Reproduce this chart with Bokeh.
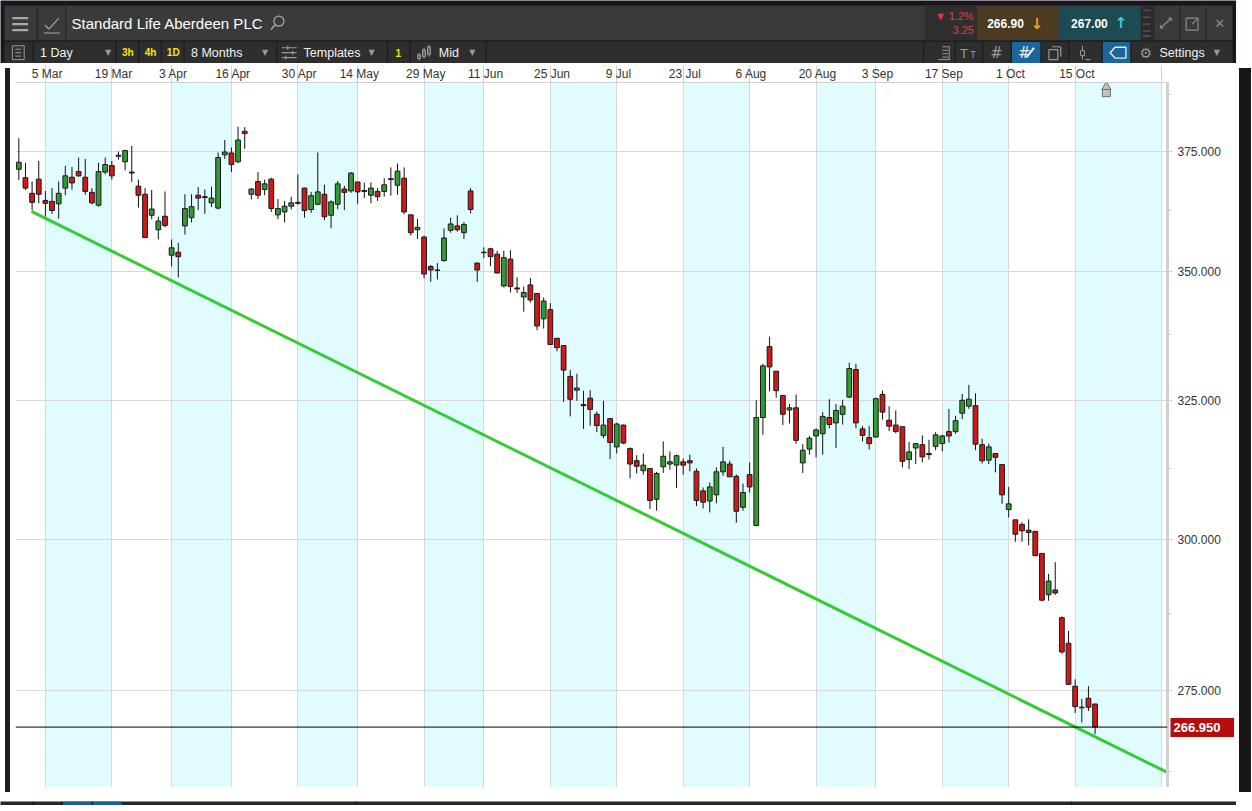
from bokeh.plotting import figure
from bokeh.models import (Range1d, FixedTicker, PrintfTickFormatter, BoxAnnotation,
                          Span, ColumnDataSource, Div, LogAxis)
from bokeh.layouts import column, row
from bokeh.core.properties import value
from bokeh.embed import file_html
from bokeh.resources import INLINE

FONT = "Liberation Sans"
SYM = "DejaVu Sans"

# ---------------- data ----------------
title = "Standard Life Aberdeen PLC"
date_ticks = [4, 14, 23, 32, 42, 51, 61, 70, 80, 90, 100, 110, 120, 129, 139, 149, 159, 172]
date_labels = ["5 Mar", "19 Mar", "3 Apr", "16 Apr", "30 Apr", "14 May", "29 May", "11 Jun",
               "25 Jun", "9 Jul", "23 Jul", "6 Aug", "20 Aug", "3 Sep", "17 Sep", "1 Oct",
               "15 Oct", ""]
band_left = [4, 23, 42, 61, 80, 100, 120, 139, 159]
band_right = [14, 32, 51, 70, 90, 110, 129, 149, 172]
price_ticks = [275, 300, 325, 350, 375]
price_minor = [262.5, 287.5, 312.5, 337.5, 362.5, 387.5]

opens = [371.2, 369.4, 366.1, 369.1, 364.6, 364.4, 363.9, 367.2, 369.5, 370.7,
         369.5, 366.3, 363.6, 370.6, 372.0, 374.0, 372.8, 370.6, 367.6, 365.9,
         361.5, 358.5, 361.3, 353.3, 353.9, 359.3, 361.0, 365.7, 365.4, 364.1,
         363.0, 374.3, 374.7, 372.8, 379.4, 365.9, 368.6, 366.9, 369.1, 361.6,
         362.2, 363.4, 364.2, 367.2, 362.7, 363.8, 365.9, 361.5, 363.8, 367.0,
         366.6, 368.5, 366.7, 365.7, 366.5, 366.5, 369.0, 367.8, 369.3, 361.6,
         358.5, 357.0, 351.0, 350.2, 352.2, 358.4, 359.3, 357.9, 366.6, 351.7,
         353.8, 354.6, 353.5, 347.1, 352.5, 346.7, 344.9, 347.3, 345.6, 340.6,
         342.4, 336.8, 335.4, 329.5, 326.9, 324.2, 325.4, 322.4, 318.5, 321.6,
         316.4, 320.4, 316.1, 313.9, 312.1, 312.5, 307.0, 312.8, 313.3, 313.1,
         313.7, 313.9, 312.0, 308.5, 306.7, 307.8, 311.9, 313.3, 311.1, 305.6,
         311.4, 302.4, 321.8, 335.2, 330.5, 325.9, 323.2, 323.6, 313.5, 316.0,
         318.4, 318.8, 321.8, 320.8, 322.4, 325.6, 330.8, 319.7, 318.1, 318.2,
         326.1, 321.3, 320.4, 320.1, 314.1, 316.2, 316.8, 315.2, 316.5, 317.0,
         319.2, 319.2, 322.6, 323.9, 324.0, 316.8, 314.0, 315.2, 313.2, 305.2,
         303.4, 302.6, 301.6, 301.4, 297.6, 290.6, 291.4, 286.8, 282.6, 275.7,
         272.4, 273.8, 272.9]
highs = [377.9, 372.6, 368.6, 373.0, 366.6, 367.2, 368.6, 371.9, 371.7, 373.7,
         373.4, 367.2, 372.6, 373.7, 373.0, 375.0, 375.4, 376.2, 369.0, 367.2,
         366.8, 361.2, 366.5, 356.5, 355.8, 365.9, 365.9, 367.4, 366.9, 367.5,
         374.8, 377.5, 375.9, 380.4, 380.3, 367.2, 370.6, 369.0, 369.4, 364.9,
         364.5, 365.4, 370.1, 367.3, 366.4, 374.8, 367.9, 364.6, 368.7, 367.7,
         370.6, 368.5, 368.4, 368.4, 367.2, 369.3, 371.6, 372.4, 371.6, 361.6,
         360.8, 357.3, 351.3, 351.7, 358.8, 361.0, 361.5, 360.1, 367.2, 351.8,
         354.9, 354.8, 354.2, 354.2, 354.3, 348.8, 347.0, 348.7, 345.6, 344.8,
         343.7, 336.8, 335.4, 330.7, 330.0, 326.8, 326.9, 322.9, 324.9, 321.6,
         320.8, 320.5, 316.3, 314.9, 315.2, 312.5, 311.9, 317.4, 315.6, 315.0,
         314.3, 315.0, 312.5, 309.1, 310.0, 312.7, 316.4, 313.9, 311.4, 309.8,
         313.6, 325.0, 331.9, 337.1, 330.5, 325.9, 324.3, 326.1, 316.9, 318.4,
         319.8, 322.8, 325.2, 324.3, 325.1, 332.1, 331.9, 320.2, 320.2, 325.5,
         326.8, 323.9, 323.1, 320.1, 317.3, 317.0, 318.5, 317.7, 319.1, 318.6,
         323.4, 322.1, 326.2, 327.9, 326.3, 317.9, 317.0, 315.2, 313.2, 309.2,
         303.4, 303.0, 303.5, 301.4, 297.6, 294.1, 296.1, 287.0, 284.6, 276.8,
         273.7, 275.7, 272.9]
lows = [368.9, 366.8, 362.6, 364.0, 361.2, 361.8, 360.8, 365.7, 366.9, 369.6,
        365.8, 363.8, 363.3, 370.1, 369.0, 373.3, 371.0, 368.5, 363.1, 356.8,
        360.7, 356.5, 359.0, 351.0, 348.8, 357.5, 360.0, 362.6, 361.8, 363.2,
        362.7, 373.4, 370.6, 372.5, 375.6, 364.8, 364.9, 365.7, 362.2, 360.7,
        360.0, 362.7, 363.7, 361.0, 362.0, 363.6, 360.5, 358.8, 362.8, 362.6,
        366.2, 363.9, 365.1, 364.0, 364.5, 365.4, 365.6, 365.8, 361.7, 357.3,
        356.6, 348.6, 347.9, 348.4, 352.0, 357.9, 358.1, 356.6, 361.9, 347.9,
        352.7, 351.1, 349.6, 346.8, 345.8, 345.7, 342.0, 343.8, 338.4, 338.7,
        335.6, 334.3, 324.7, 322.0, 324.9, 319.7, 320.3, 319.1, 318.0, 314.2,
        315.2, 316.9, 310.7, 311.6, 311.4, 305.3, 305.0, 311.7, 312.3, 309.0,
        311.4, 312.0, 305.8, 305.4, 304.7, 306.3, 311.2, 311.0, 302.9, 305.0,
        308.2, 302.3, 318.6, 326.7, 325.5, 320.4, 320.7, 317.0, 311.7, 315.0,
        314.5, 315.0, 319.8, 316.2, 320.5, 325.4, 319.8, 317.4, 315.9, 318.2,
        321.4, 319.3, 318.9, 312.7, 312.4, 313.3, 313.6, 314.1, 315.8, 315.6,
        317.2, 318.8, 321.5, 323.4, 315.8, 313.4, 313.3, 311.8, 306.2, 303.8,
        299.6, 299.6, 299.0, 297.2, 289.5, 289.6, 290.6, 280.9, 275.9, 271.5,
        270.0, 271.8, 268.2]
closes = [372.7, 367.2, 364.2, 365.9, 364.0, 362.5, 366.1, 369.8, 368.3, 369.8,
          366.5, 364.1, 370.7, 372.2, 369.8, 374.2, 375.2, 370.4, 365.7, 356.9,
          362.8, 360.3, 359.4, 354.8, 353.0, 362.9, 363.3, 365.1, 365.2, 365.1,
          373.7, 374.9, 372.2, 377.5, 378.9, 367.0, 365.7, 368.1, 362.9, 362.9,
          363.4, 364.1, 364.0, 362.5, 365.6, 366.4, 361.2, 364.3, 368.1, 366.3,
          370.4, 366.4, 366.5, 367.2, 365.4, 367.9, 369.2, 370.8, 362.2, 357.9,
          359.0, 349.5, 350.3, 350.3, 356.8, 359.7, 358.5, 359.6, 362.7, 350.3,
          353.9, 353.0, 349.7, 352.8, 347.0, 346.5, 345.8, 344.3, 339.2, 344.1,
          335.6, 335.0, 330.7, 325.2, 327.3, 324.0, 323.3, 320.3, 320.4, 317.2,
          320.6, 317.1, 313.3, 312.9, 313.1, 306.8, 311.6, 314.7, 313.7, 314.8,
          313.1, 313.5, 306.8, 306.5, 309.2, 311.9, 313.7, 311.0, 304.9, 308.2,
          309.2, 321.8, 331.5, 331.3, 326.8, 322.4, 323.6, 317.6, 315.8, 318.0,
          319.5, 322.0, 320.5, 323.1, 323.9, 331.0, 320.8, 318.5, 317.0, 325.3,
          322.8, 320.2, 319.2, 313.8, 315.5, 317.0, 314.6, 315.0, 318.6, 318.4,
          318.4, 321.2, 325.0, 325.2, 316.9, 313.9, 316.4, 314.5, 307.8, 306.2,
          300.9, 301.5, 301.2, 297.2, 289.7, 292.9, 290.9, 281.2, 276.0, 272.5,
          272.3, 272.4, 269.3]

trend_x = [1.9, 172.9]
trend_y = [362.3, 262.35]
last_price_text = "266.950"

# ---------------- colours ----------------
UP = "#339a33"
DOWN = "#d01818"
BAND = "#e0fcff"
DARK = "#1e1e1e"
PRICE_RED = "#b50d0d"

# ---------------- header (toolbar strip) ----------------
hdr = figure(width=1236, height=63, x_range=Range1d(0, 1252), y_range=Range1d(64, 0),
             toolbar_location=None, output_backend="svg", min_border=0)
hdr.axis.visible = False
hdr.grid.visible = False
hdr.outline_line_color = None
hdr.background_fill_color = "#1b1420"
hdr.border_fill_color = "#1b1420"


def box(fig, l, r, t, b, color, line=None):
    fig.quad(left=[l], right=[r], top=[t], bottom=[b], fill_color=color, line_color=line)


def txt(x, y, s, size="12px", color="#f2f2f2", align="left", font=FONT, style="normal"):
    hdr.text(x=[x], y=[y], text=[s], text_font=value(font), text_font_size=value(size),
             text_color=color, text_align=align, text_baseline="middle",
             text_font_style=style)


def seg(x0, y0, x1, y1, color="#9a9a9a", w=1.0, fig=None):
    (fig or hdr).segment(x0=[x0], y0=[y0], x1=[x1], y1=[y1], line_color=color, line_width=w)


box(hdr, 4, 1248, 5, 41, "#3a3a3a")
box(hdr, 4, 1248, 42, 64, "#2e2e2e")
box(hdr, 936, 989, 5, 41, "#2f2f2f")
box(hdr, 989, 1072, 6, 40, "#4c3a22")
box(hdr, 1072, 1155, 6, 40, "#1c4b54")
box(hdr, 1155, 1167, 6, 40, "#2a2a2a")
box(hdr, 1024, 1054, 42, 64, "#1b679c")
box(hdr, 1116, 1145, 42, 64, "#1b679c")

for sx in [37, 66, 1168, 1195, 1221]:
    seg(sx, 5, sx, 41, "#242424", 1.2)
for sx in [33, 117, 140, 163, 186, 280, 392, 415, 492, 935, 967, 995, 1024, 1054, 1082, 1116, 1145]:
    seg(sx, 42, sx, 64, "#1c1c1c", 1.2)
seg(4, 41.5, 1248, 41.5, "#1f1f1f", 1.5)
for yy in [10, 17, 24, 31, 36]:
    seg(1157, yy, 1165, yy, "#4a4a4a", 2)

# hamburger + chart icon + search
for yy in [18, 24, 30]:
    seg(12, yy, 28, yy, "#a8a8a8", 2.2)
hdr.line(x=[45, 49, 59], y=[25, 29, 18], line_color="#a8a8a8", line_width=1.2)
seg(44, 33, 60, 33, "#a8a8a8", 1.2)
txt(72, 23, title, size="15px", color="#ffffff")
hdr.scatter(x=[282], y=[21], marker="circle", size=10, fill_color=None,
            line_color="#a8a8a8", line_width=1.3)
seg(278.5, 24.5, 274, 29.5, "#a8a8a8", 1.5)

# price blocks
txt(986, 16, "\u25bc 1.2%", size="11px", color="#e8383d", align="right")
txt(986, 30, "3.25", size="11px", color="#e8383d", align="right")
txt(1018, 23, "266.90", size="12px", color="#ffffff", align="center", style="bold")
txt(1050, 24, "\u2193", size="15px", color="#efa02c", align="center", font=SYM, style="bold")
txt(1103, 23, "267.00", size="12px", color="#ffffff", align="center", style="bold")
txt(1135, 23, "\u2191", size="15px", color="#3fcfe0", align="center", font=SYM, style="bold")
# window buttons
seg(1175, 28, 1186, 18, "#8a8a8a", 1.2)
seg(1183, 18, 1186, 18, "#8a8a8a", 1.2)
seg(1186, 18, 1186, 21, "#8a8a8a", 1.2)
seg(1175, 25, 1175, 28, "#8a8a8a", 1.2)
seg(1175, 28, 1178, 28, "#8a8a8a", 1.2)
hdr.quad(left=[1201], right=[1213], top=[18], bottom=[30], fill_color=None,
         line_color="#8a8a8a", line_width=1.2)
seg(1207, 24, 1213, 18, "#8a8a8a", 1.2)
txt(1235, 23, "\u2715", size="13px", color="#8a8a8a", align="center", font=SYM)

# toolbar row
TY = 53
hdr.quad(left=[12], right=[24], top=[46], bottom=[60], fill_color=None,
         line_color="#9a9a9a", line_width=1)
for yy in [49.5, 53, 56.5]:
    seg(15, yy, 21, yy, "#9a9a9a", 1)
txt(40, TY, "1 Day", size="12.5px")
txt(109, TY, "\u25bc", size="8px", color="#9a9a9a", align="center", font=SYM)
txt(129, TY, "3h", size="10px", color="#f4e600", align="center", style="bold")
txt(152, TY, "4h", size="10px", color="#f4e600", align="center", style="bold")
txt(175, TY, "1D", size="10px", color="#f4e600", align="center", style="bold")
txt(193, TY, "8 Months", size="12.5px")
txt(268, TY, "\u25bc", size="8px", color="#9a9a9a", align="center", font=SYM)
for yy, xm in [(48, 291), (53, 296), (58, 289)]:
    seg(285, yy, 300, yy, "#9a9a9a", 1.2)
    seg(xm, yy - 2, xm, yy + 2, "#9a9a9a", 1.2)
txt(307, TY, "Templates", size="12.5px")
txt(376, TY, "\u25bc", size="8px", color="#9a9a9a", align="center", font=SYM)
txt(403, TY, "1", size="10px", color="#f4e600", align="center", style="bold")
for cx, t, b in [(424, 55, 59), (429, 50, 57), (434, 47, 55)]:
    seg(cx, t - 2, cx, b + 2, "#9a9a9a", 1)
    hdr.quad(left=[cx - 1.5], right=[cx + 1.5], top=[t], bottom=[b], fill_color=None,
             line_color="#9a9a9a", line_width=1)
txt(444, TY, "Mid", size="12.5px")
txt(478, TY, "\u25bc", size="8px", color="#9a9a9a", align="center", font=SYM)

# right toolbar icons
for yy in [47, 50.5, 54, 57.5]:
    seg(954, yy, 960, yy, "#9a9a9a", 1)
seg(961, 46, 961, 60, "#9a9a9a", 1)
seg(950, 60, 962, 60, "#9a9a9a", 1)
txt(976, TY + 1, "T", size="13px", color="#9a9a9a", align="center", font=SYM)
txt(985, TY + 2, "T", size="9px", color="#9a9a9a", align="center", font=SYM)
txt(1009, TY, "#", size="15px", color="#9a9a9a", align="center", font=SYM)
txt(1037, TY, "#", size="15px", color="#e8e8e8", align="center", font=SYM)
seg(1039, 58, 1047, 48, "#e8e8e8", 2)
hdr.quad(left=[1062], right=[1071], top=[50], bottom=[60], fill_color="#2e2e2e",
         line_color="#9a9a9a", line_width=1.2)
seg(1065, 47, 1074, 47, "#9a9a9a", 1.2)
seg(1074, 47, 1074, 57, "#9a9a9a", 1.2)
seg(1096, 46, 1096, 60, "#9a9a9a", 1)
hdr.quad(left=[1094], right=[1098], top=[51], bottom=[56], fill_color="#2e2e2e",
         line_color="#9a9a9a", line_width=1)
seg(1099, 60, 1104, 60, "#9a9a9a", 1)
hdr.patch(x=[1124, 1129, 1140, 1140, 1129], y=[53, 47.5, 47.5, 58.5, 58.5],
          fill_color=None, line_color="#e8e8e8", line_width=1.4)
txt(1160, TY, "\u2699", size="14px", color="#9a9a9a", align="center", font=SYM)
txt(1174, TY, "Settings", size="12.5px")
txt(1232, TY, "\u25bc", size="8px", color="#9a9a9a", align="center", font=SYM)

# ---------------- main chart ----------------
p = figure(width=1219, height=724, x_range=Range1d(-0.5, 172.9),
           y_range=Range1d(260.1, 390.2), y_axis_type="log",
           x_axis_location="above", y_axis_location="right",
           toolbar_location=None, output_backend="svg",
           min_border_left=0, min_border_right=67, min_border_top=18, min_border_bottom=0)
p.background_fill_color = "white"
p.border_fill_color = "white"
p.outline_line_color = None

for l, r in zip(band_left, band_right):
    p.add_layout(BoxAnnotation(left=l, right=r, fill_color=BAND, fill_alpha=1.0,
                               line_color=None, level="image"))

p.xaxis.ticker = FixedTicker(ticks=date_ticks)
p.xgrid.ticker = FixedTicker(ticks=date_ticks)
p.xaxis.major_label_overrides = {t: ("\u00a0" + s if s else "") for t, s in zip(date_ticks, date_labels)}
p.xaxis.major_tick_in = 0
p.xaxis.major_tick_out = 17
p.xaxis.minor_tick_out = 0
p.xaxis.minor_tick_in = 0
p.xaxis.major_tick_line_color = "#d2d2d2"
p.xaxis.axis_line_color = "#cfcfcf"
p.xaxis.major_label_standoff = -15
p.xaxis.major_label_text_align = "left"
p.xaxis.major_label_text_font = FONT
p.xaxis.major_label_text_font_size = "12px"
p.xaxis.major_label_text_color = "#333333"

p.yaxis.ticker = FixedTicker(ticks=price_ticks, minor_ticks=price_minor)
p.yaxis.formatter = PrintfTickFormatter(format="%.3f")
p.yaxis.major_tick_in = 0
p.yaxis.major_tick_out = 5
p.yaxis.minor_tick_in = 0
p.yaxis.minor_tick_out = 4
p.yaxis.major_tick_line_color = "#cfcfcf"
p.yaxis.minor_tick_line_color = "#cfcfcf"
p.yaxis.axis_line_color = "#d0d0d0"
p.yaxis.axis_line_width = 3
p.yaxis.major_label_standoff = 5
p.yaxis.major_label_text_font = FONT
p.yaxis.major_label_text_font_size = "12px"
p.yaxis.major_label_text_color = "#333333"

p.xgrid.grid_line_color = "#d8d8d8"
p.ygrid.grid_line_color = "#d8d8d8"

idx = list(range(len(closes)))
src = ColumnDataSource(dict(
    x=idx, o=opens, h=highs, l=lows, c=closes,
    top=[max(a, b) for a, b in zip(opens, closes)],
    bot=[min(a, b) for a, b in zip(opens, closes)],
    col=[UP if c >= o else DOWN for o, c in zip(opens, closes)],
))
p.segment(x0="x", y0="l", x1="x", y1="h", source=src, line_color="#111111", line_width=1)
p.vbar(x="x", width=0.72, top="top", bottom="bot", source=src, fill_color="col",
       line_color="#1a1a1a", line_width=1)

p.line(x=trend_x, y=trend_y, line_color="#33cc33", line_width=3)

last_close = closes[-1]
p.add_layout(Span(location=last_close, dimension="width", line_color="#000000", line_width=1))

# last-price tag: a second (narrow) price axis whose single tick is a thick red bar
W1 = 54          # width taken by the main price axis
TAG_OUT = 12
price_tag = LogAxis(ticker=FixedTicker(ticks=[last_close], minor_ticks=[]),
                    major_label_overrides={last_close: last_price_text},
                    axis_line_color=None,
                    major_tick_in=W1 - 1, major_tick_out=TAG_OUT,
                    major_tick_line_color=PRICE_RED, major_tick_line_width=19,
                    minor_tick_line_color=None,
                    major_label_standoff=4 - W1 - TAG_OUT,
                    major_label_text_color="white",
                    major_label_text_font=FONT,
                    major_label_text_font_style="bold",
                    major_label_text_font_size="13px")
p.add_layout(price_tag, "right")

# scroll marker above the last candle
mx = [len(closes) + 0.7]
p.scatter(x=mx, y=[p.y_range.end * 0.9942], marker="square", size=8,
          fill_color="#c2c2c2", line_color="#707070")
p.scatter(x=mx, y=[p.y_range.end * 0.9975], marker="triangle", size=9,
          fill_color="#c2c2c2", line_color="#707070")

left_div = Div(text="", width=5, height=724, styles={"background-color": DARK})
right_div = Div(text="", width=12, height=724, styles={"background-color": "#161616"})

# bottom strip
bot = figure(width=1236, height=8, x_range=Range1d(0, 1252), y_range=Range1d(0, 8),
             toolbar_location=None, output_backend="svg", min_border=0)
bot.axis.visible = False
bot.grid.visible = False
bot.outline_line_color = None
bot.background_fill_color = "#262626"
bot.border_fill_color = "#262626"
box(bot, 63, 123, 8, 0, "#1b5f8c")
for sx in [33, 62, 93, 360, 1085]:
    seg(sx, 0, sx, 8, "#111111", 1.2, fig=bot)

layout = column(hdr, row(left_div, p, right_div), bot)

open("out.html", "w").write(file_html(layout, INLINE))
